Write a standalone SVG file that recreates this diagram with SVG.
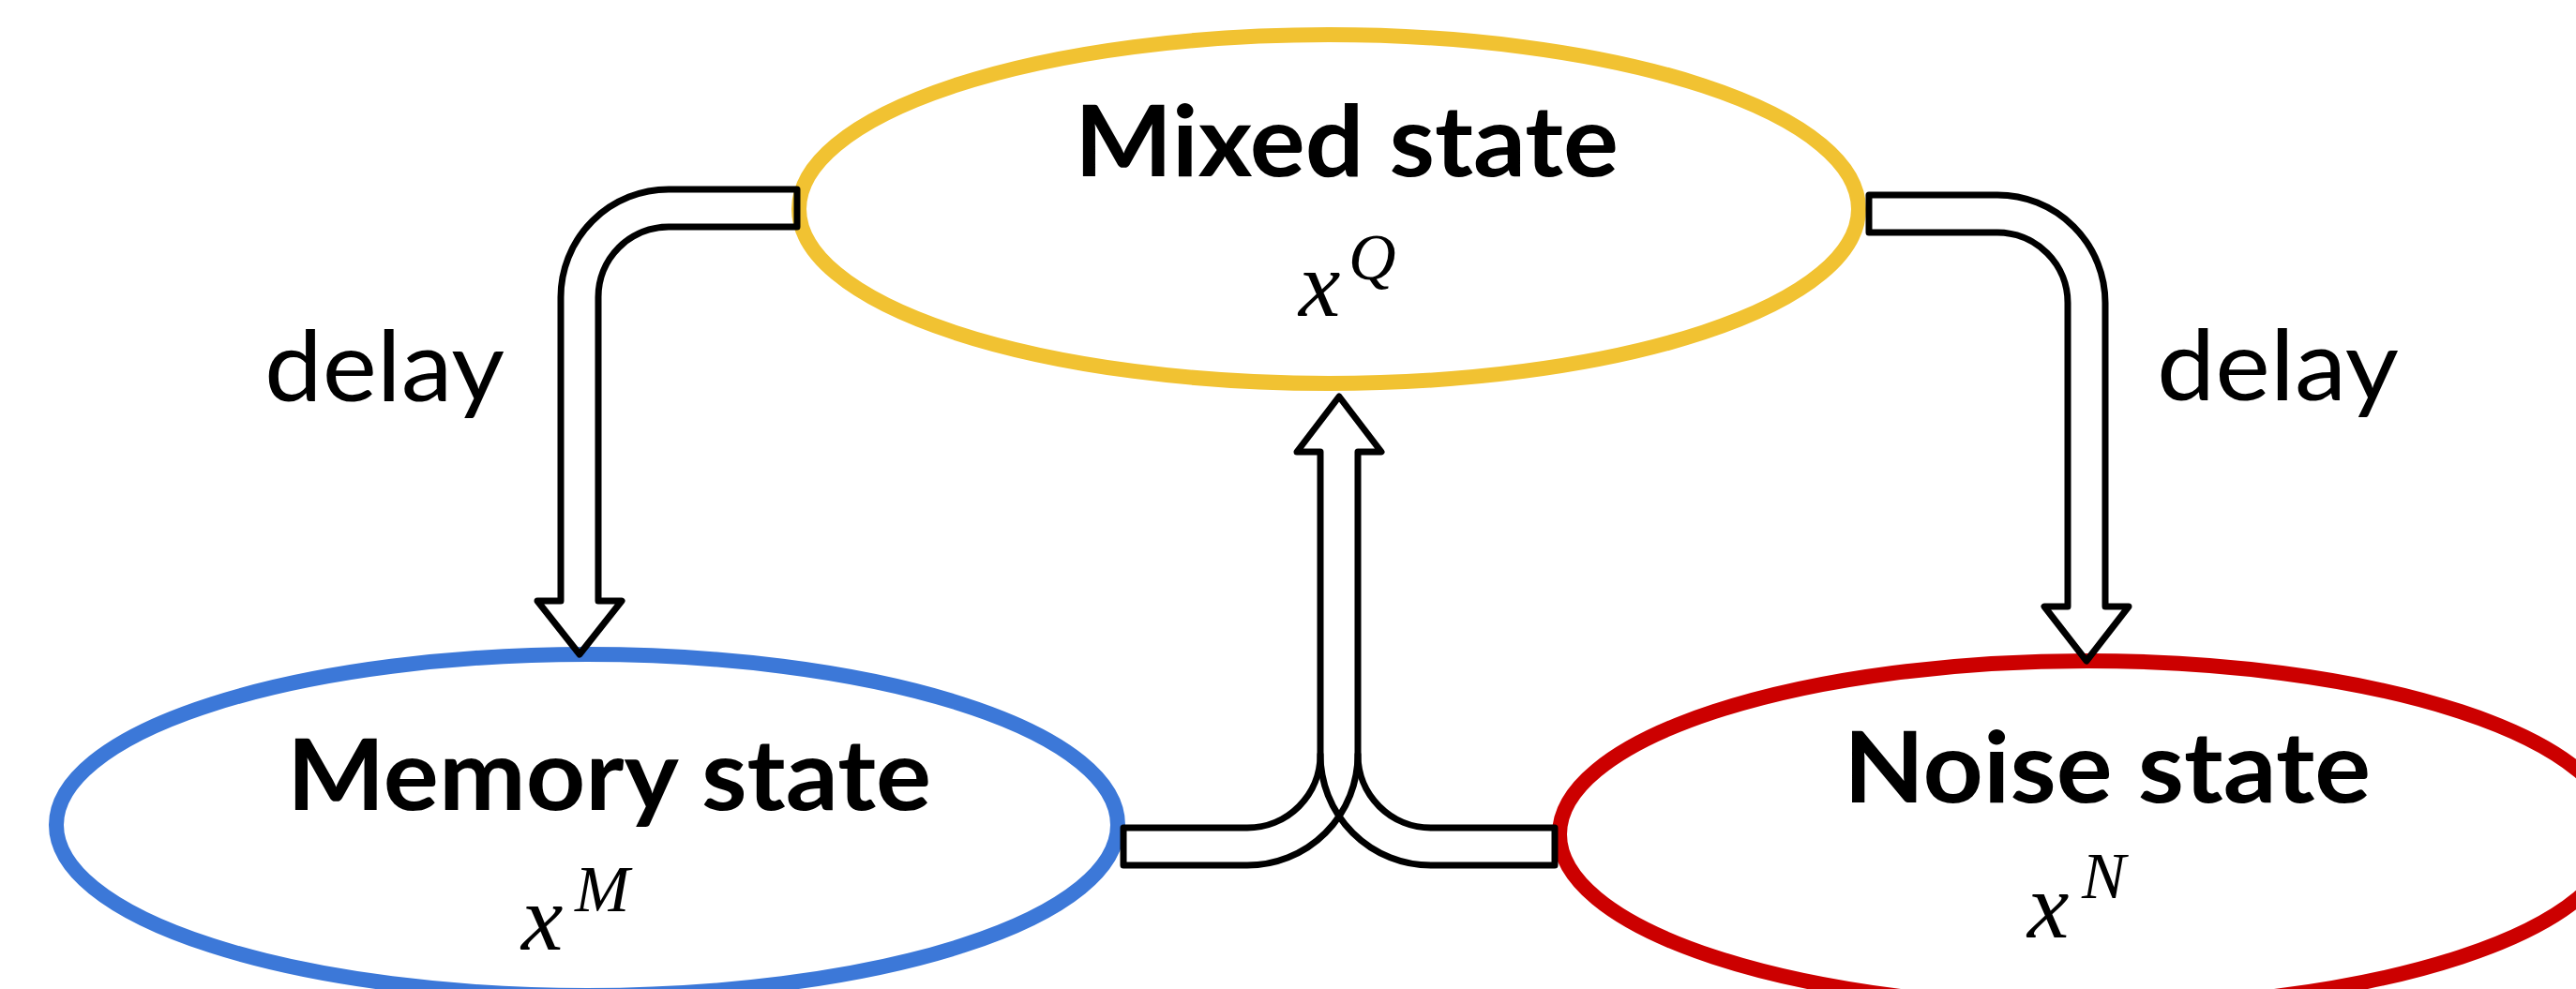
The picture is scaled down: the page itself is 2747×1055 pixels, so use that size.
<svg xmlns="http://www.w3.org/2000/svg" width="2747" height="1055" viewBox="0 0 2747 1055">
<style>
.state{fill:#ffffff;stroke-width:16}
.title{font-family:Lato,"Liberation Sans",sans-serif;font-weight:700;font-size:105px;fill:#000}
.lbl{font-family:Lato,"Liberation Sans",sans-serif;font-weight:400;font-size:105px;fill:#000}
.math{font-family:"Liberation Serif",serif;font-style:italic;font-size:100px;fill:#000}
.sup{font-size:70px}
.conn{fill:none;stroke:#000;stroke-width:7;stroke-linejoin:round;stroke-linecap:round}
</style>
<rect width="2747" height="1055" fill="#ffffff"/>
<g id="mixed">
<ellipse class="state" cx="1417" cy="223" rx="565" ry="186" stroke="#f1c232"/>
<text class="title" x="1146" y="188" textLength="580" lengthAdjust="spacingAndGlyphs">Mixed state</text>
<text class="math"><tspan x="1385" y="337">x</tspan><tspan class="sup" x="1438" y="298">Q</tspan></text>
</g>
<g id="memory">
<ellipse class="state" cx="626" cy="880" rx="566" ry="182" stroke="#3c78d8"/>
<text class="title" x="306" y="864" textLength="687" lengthAdjust="spacingAndGlyphs">Memory state</text>
<text class="math"><tspan x="556" y="1013">x</tspan><tspan class="sup" x="613" y="972">M</tspan></text>
</g>
<g id="noise">
<ellipse class="state" cx="2226" cy="890" rx="563" ry="185" stroke="#cc0000"/>
<text class="title" x="1966" y="856" textLength="562" lengthAdjust="spacingAndGlyphs">Noise state</text>
<text class="math"><tspan x="2162" y="1000">x</tspan><tspan class="sup" x="2220" y="958">N</tspan></text>
</g>
<g id="connectors">
<path class="conn" d="M 850 202 H 713 A 115 115 0 0 0 598 317 V 641 H 573 L 618 698 L 663 641 H 638 V 317 A 75 75 0 0 1 713 242 H 850 Z"/>
<path class="conn" d="M 1993 208 H 2130 A 115 115 0 0 1 2245 323 V 647 H 2270 L 2225 705 L 2180 647 H 2205 V 323 A 75 75 0 0 0 2130 248 H 1993 Z"/>
<path class="conn" d="M 1198 883 H 1330 A 78 78 0 0 0 1408 805 V 482 H 1383 L 1428 423 L 1473 482 H 1448 V 805 A 118 118 0 0 1 1330 923 H 1198 Z"/>
<path class="conn" d="M 1448 805 A 78 78 0 0 0 1526 883 H 1658 V 923 H 1526 A 118 118 0 0 1 1408 805"/>
<text class="lbl" x="282" y="428" textLength="256" lengthAdjust="spacingAndGlyphs">delay</text>
<text class="lbl" x="2300" y="427" textLength="258" lengthAdjust="spacingAndGlyphs">delay</text>
</g>
</svg>
